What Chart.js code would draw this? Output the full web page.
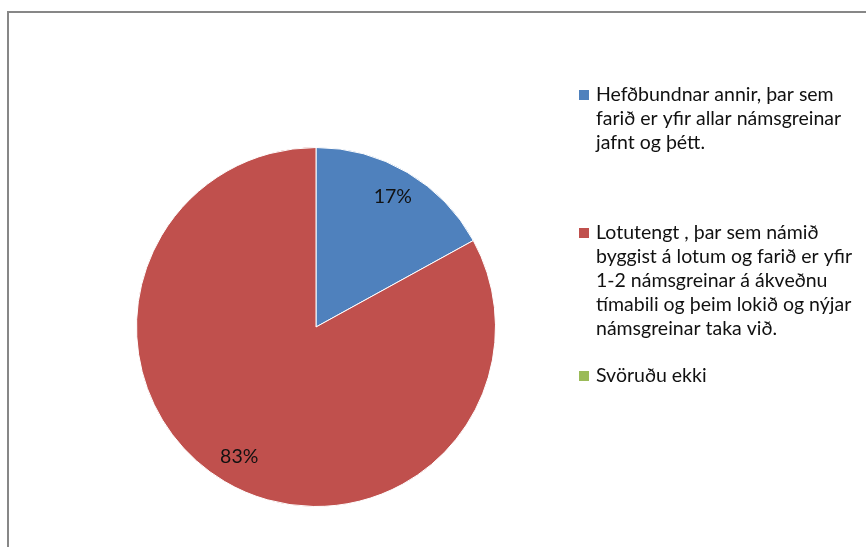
<!DOCTYPE html>
<html>
<head>
<meta charset="utf-8">
<script src="https://cdn.jsdelivr.net/npm/chart.js@4.4.0/dist/chart.umd.min.js"></script>
<style>
html,body{margin:0;padding:0;background:#fff;}
#wrap{position:relative;width:866px;height:547px;}
</style>
</head>
<body>
<div id="wrap"><canvas id="c" width="866" height="547"></canvas></div>
<script>
const categories = [
  "Hefðbundnar annir, þar sem farið er yfir allar námsgreinar jafnt og þétt.",
  "Lotutengt , þar sem námið byggist á lotum og farið er yfir 1-2 námsgreinar á ákveðnu tímabili og þeim lokið og nýjar námsgreinar taka við.",
  "Svöruðu ekki"
];
const legendLines = [
  ["Hefðbundnar annir, þar sem", "farið er yfir allar námsgreinar", "jafnt og þétt."],
  ["Lotutengt , þar sem námið", "byggist á lotum og farið er yfir", "1-2 námsgreinar á ákveðnu", "tímabili og þeim lokið og nýjar", "námsgreinar taka við."],
  ["Svöruðu ekki"]
];
const values = [17, 83, 0];
const colors = ["#4F81BD", "#C0504D", "#9BBB59"];

const FONT = "19.5px Lato, 'Open Sans', sans-serif";

const framePlugin = {
  id: 'frame',
  beforeDraw(chart) {
    const ctx = chart.ctx;
    ctx.save();
    ctx.strokeStyle = '#878787';
    ctx.lineWidth = 2;
    ctx.beginPath();
    ctx.moveTo(8, 547);
    ctx.lineTo(8, 12);
    ctx.lineTo(866, 12);
    ctx.stroke();
    ctx.restore();
  }
};

const labelPlugin = {
  id: 'pielabels',
  afterDatasetsDraw(chart) {
    const ctx = chart.ctx;
    const meta = chart.getDatasetMeta(0);
    const total = values.reduce((a, b) => a + b, 0);
    ctx.save();
    ctx.font = FONT;
    ctx.fillStyle = '#111';
    ctx.textAlign = 'center';
    ctx.textBaseline = 'middle';
    meta.data.forEach((arc, i) => {
      if (!values[i]) return;
      const mid = (arc.startAngle + arc.endAngle) / 2;
      const r = arc.outerRadius * 0.84;
      const x = arc.x + Math.cos(mid) * r;
      const y = arc.y + Math.sin(mid) * r;
      ctx.fillText(Math.round(values[i] / total * 100) + '%', x, y);
    });
    ctx.restore();
  }
};

const legendPlugin = {
  id: 'customLegend',
  afterDraw(chart) {
    const ctx = chart.ctx;
    ctx.save();
    ctx.font = FONT;
    ctx.textBaseline = 'middle';
    const starts = [95, 233, 376];
    const lh = 24;
    legendLines.forEach((lines, i) => {
      const y0 = starts[i];
      ctx.fillStyle = colors[i];
      ctx.fillRect(579, y0 - 5, 10, 10);
      ctx.fillStyle = '#111';
      lines.forEach((t, j) => ctx.fillText(t, 596, y0 + j * lh));
    });
    ctx.restore();
  }
};

new Chart(document.getElementById('c'), {
  type: 'pie',
  data: {
    labels: categories,
    datasets: [{
      data: values,
      backgroundColor: colors,
      borderColor: '#ffffff',
      borderWidth: 1
    }]
  },
  options: {
    responsive: false,
    animation: false,
    layout: { padding: { left: 136, right: 370, top: 147, bottom: 40 } },
    plugins: {
      legend: { display: false },
      tooltip: { enabled: false }
    }
  },
  plugins: [framePlugin, labelPlugin, legendPlugin]
});
</script>
</body>
</html>
